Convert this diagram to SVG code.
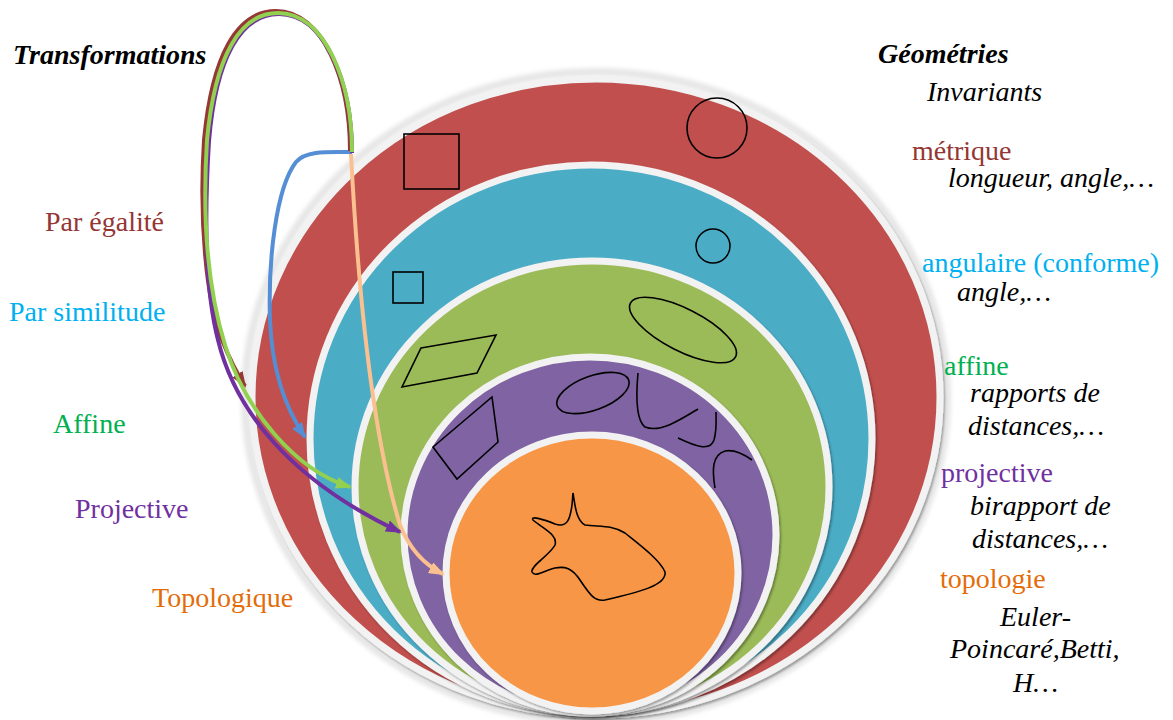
<svg xmlns="http://www.w3.org/2000/svg" width="1173" height="720" viewBox="0 0 1173 720">
<style>
.t{font-size:28px;}
.b{font-weight:bold;font-style:italic;fill:#000;}
.i{font-style:italic;fill:#000;}
.ring{stroke:#f2f2f2;stroke-width:7;filter:url(#sh);}
.fig{fill:none;stroke:#000;stroke-width:1.6;}
.c{fill:none;stroke-width:4;}
</style>
<defs>
<filter id="sh" x="-10%" y="-10%" width="120%" height="120%">
<feDropShadow dx="1.5" dy="2" stdDeviation="1.2" flood-color="#000" flood-opacity="0.35"/>
</filter>
<filter id="halo" x="-10%" y="-10%" width="120%" height="120%">
<feGaussianBlur stdDeviation="2"/>
</filter>
<marker id="mR" markerUnits="userSpaceOnUse" markerWidth="16" markerHeight="12" viewBox="0 0 16 12" refX="14" refY="6" orient="auto"><path d="M0,0 L16,6 L0,12 z" fill="#953735"/></marker>
<marker id="mB" markerUnits="userSpaceOnUse" markerWidth="16" markerHeight="12" viewBox="0 0 16 12" refX="14" refY="6" orient="auto"><path d="M0,0 L16,6 L0,12 z" fill="#558ed5"/></marker>
<marker id="mG" markerUnits="userSpaceOnUse" markerWidth="16" markerHeight="12" viewBox="0 0 16 12" refX="14" refY="6" orient="auto"><path d="M0,0 L16,6 L0,12 z" fill="#92d050"/></marker>
<marker id="mP" markerUnits="userSpaceOnUse" markerWidth="16" markerHeight="12" viewBox="0 0 16 12" refX="14" refY="6" orient="auto"><path d="M0,0 L16,6 L0,12 z" fill="#7030a0"/></marker>
<marker id="mO" markerUnits="userSpaceOnUse" markerWidth="16" markerHeight="12" viewBox="0 0 16 12" refX="14" refY="6" orient="auto"><path d="M0,0 L16,6 L0,12 z" fill="#fac08f"/></marker>
</defs>
<rect width="1173" height="720" fill="#fff"/>

<g id="metrique">
<ellipse cx="596" cy="397" rx="351" ry="325" fill="none" stroke="#e6e6e6" stroke-width="8" filter="url(#halo)"/>
<ellipse class="ring" cx="596" cy="397" rx="344" ry="318" fill="#c0504d"/>
<rect class="fig" x="404" y="134" width="55" height="55"/>
<circle class="fig" cx="717" cy="128" r="30"/>
</g>
<g id="angulaire">
<ellipse class="ring" cx="591" cy="439" rx="281" ry="274" fill="#4bacc6"/>
<rect class="fig" x="393" y="272" width="30" height="31"/>
<circle class="fig" cx="713" cy="246" r="17"/>
</g>
<g id="affine">
<ellipse class="ring" cx="592" cy="487" rx="237" ry="226" fill="#9bbb59"/>
<polygon class="fig" points="421,348 496,335 477,373 402,387"/>
<ellipse class="fig" cx="683" cy="330" rx="59" ry="21" transform="rotate(27 683 330)"/>
</g>
<g id="projective">
<ellipse class="ring" cx="590" cy="535" rx="186" ry="178" fill="#8064a2"/>
<polygon class="fig" points="433,447 492,397 498,442 457,479"/>
<ellipse class="fig" cx="593" cy="393" rx="38" ry="17" transform="rotate(-20 593 393)"/>
<path class="fig" d="M638,373 C636,395 636,420 645,427 C660,433 680,420 698,409"/>
<path class="fig" d="M678,438 C695,446 710,452 714,440 C717,430 716,420 716,412"/>
<path class="fig" d="M715,488 C712,470 712,455 725,451 C735,449 745,455 752,460"/>
</g>
<g id="topologie">
<ellipse class="ring" cx="592" cy="573" rx="146" ry="138" fill="#f79646"/>
<path class="fig" d="M573,493 C575,505 576,520 585,525 C600,527 612,525 625,533 C640,545 660,560 665,572 C667,585 640,592 605,600 C595,602 590,595 580,580 C572,568 565,566 555,568 C545,570 535,578 532,572 C530,566 550,555 555,545 C558,535 545,530 533,520 C530,515 545,520 555,524 C567,528 570,520 572,505 Z"/>
</g>

<g id="connectors">
<path class="c" stroke="#fac08f" stroke-width="3.5" d="M351,154 C356,250 368,420 400,525 C410,550 425,565 443,574" marker-end="url(#mO)"/>
<path class="c" stroke="#558ed5" d="M352,152 C330,152 306,150 296,162 C276,188 268,260 270,320 C272,370 285,408 305,437" marker-end="url(#mB)"/>
<path class="c" stroke="#953735" d="M350,151 C350,80 323,11 276,11 C237,11 212,55 204,140 C199,220 206,300 222,340 C230,360 238,375 245,386" marker-end="url(#mR)"/>
<path class="c" stroke="#7030a0" d="M352,153 C352,83 325,14 279,14 C241,14 216,57 209,141 C204,222 205,290 218,340 C235,410 290,480 400,532" marker-end="url(#mP)"/>
<path class="c" stroke="#92d050" d="M352,152 C352,82 325,13 278,13 C240,13 215,56 207,140 C202,220 208,290 225,345 C245,410 295,470 350,487" marker-end="url(#mG)"/>
</g>

<g id="left-labels" font-family="Liberation Serif">
<text class="t b" font-family="Liberation Serif" x="13" y="64">Transformations</text>
<text class="t" font-family="Liberation Serif" x="45" y="231" fill="#943634">Par égalité</text>
<text class="t" font-family="Liberation Serif" x="9" y="321" fill="#00b0f0">Par similitude</text>
<text class="t" font-family="Liberation Serif" x="53" y="433" fill="#00b050">Affine</text>
<text class="t" font-family="Liberation Serif" x="75" y="518" fill="#7030a0">Projective</text>
<text class="t" font-family="Liberation Serif" x="152" y="607" fill="#e36c09">Topologique</text>
</g>

<g id="right-labels" font-family="Liberation Serif">
<text class="t b" font-family="Liberation Serif" x="878" y="63">Géométries</text>
<text class="t i" font-family="Liberation Serif" x="927" y="101">Invariants</text>
<text class="t" font-family="Liberation Serif" x="912" y="160" fill="#943634">métrique</text>
<text class="t i" font-family="Liberation Serif" x="948" y="187">longueur, angle,…</text>
<text class="t" font-family="Liberation Serif" x="922" y="272" fill="#00b0f0">angulaire (conforme)</text>
<text class="t i" font-family="Liberation Serif" x="957" y="301">angle,…</text>
<text class="t" font-family="Liberation Serif" x="944" y="375" fill="#00b050">affine</text>
<text class="t i" font-family="Liberation Serif" x="970" y="402">rapports de</text>
<text class="t i" font-family="Liberation Serif" x="968" y="435">distances,…</text>
<text class="t" font-family="Liberation Serif" x="941" y="482" fill="#7030a0">projective</text>
<text class="t i" font-family="Liberation Serif" x="970" y="515">birapport de</text>
<text class="t i" font-family="Liberation Serif" x="972" y="548">distances,…</text>
<text class="t" font-family="Liberation Serif" x="940" y="588" fill="#e36c09">topologie</text>
<text class="t i" font-family="Liberation Serif" x="1000" y="626">Euler-</text>
<text class="t i" font-family="Liberation Serif" x="950" y="658">Poincaré,Betti,</text>
<text class="t i" font-family="Liberation Serif" x="1013" y="692">H…</text>
</g>
</svg>
